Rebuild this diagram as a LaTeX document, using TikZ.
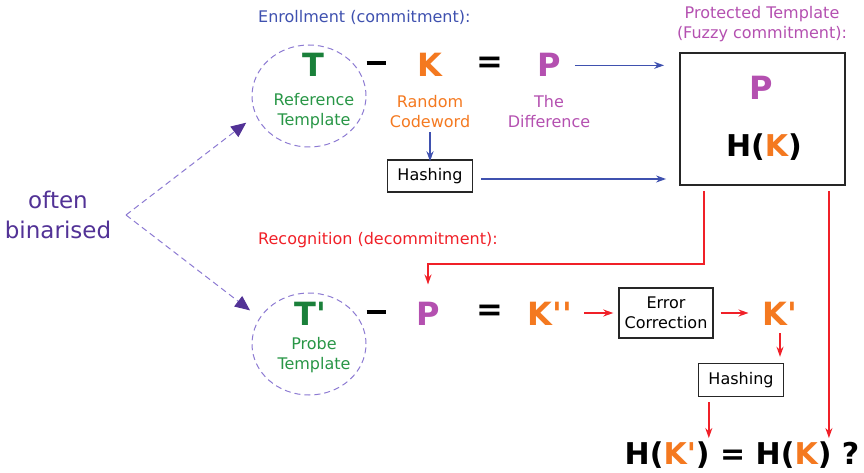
\documentclass[tikz,border=0pt]{standalone}
\usepackage{fontspec}
\setmainfont{DejaVu Sans}[Ligatures=TeXOff]
\usetikzlibrary{arrows.meta,positioning,calc,shapes.geometric}

\definecolor{enrblue}{RGB}{63,81,175}
\definecolor{tgreen}{RGB}{26,128,58}
\definecolor{lgreen}{RGB}{40,150,70}
\definecolor{korange}{RGB}{244,121,32}
\definecolor{pmagenta}{RGB}{180,80,176}
\definecolor{recred}{RGB}{240,32,40}
\definecolor{binpurple}{RGB}{82,50,150}
\definecolor{dashpurple}{RGB}{140,122,210}

\newcommand{\pr}{'}
\newcommand{\minusbar}{\rule{19pt}{3.6pt}}

\begin{document}
\begin{tikzpicture}[
    x=1pt, y=-1pt,
    sym/.style={font=\fontsize{32}{32}\selectfont\bfseries, inner sep=0pt},
    hsym/.style={font=\fontsize{30}{30}\selectfont\bfseries, inner sep=0pt},
    lbl/.style={font=\fontsize{16}{20}\selectfont, align=center, inner sep=0pt},
    proc/.style={draw=black!85, line width=1.4pt, font=\fontsize{16}{20}\selectfont, align=center, inner sep=2pt},
    tmpl/.style={ellipse, draw=dashpurple, dash pattern=on 6pt off 4pt, line width=1pt, minimum width=114pt, minimum height=102pt},
    bluearr/.style={-{Stealth[length=10pt,width=7pt]}, enrblue, line width=1.6pt},
    redarr/.style={-{Stealth[length=10pt,width=7pt]}, recred, line width=1.6pt},
    binarr/.style={-{Triangle[length=15pt,width=13pt,color=binpurple]}, dashpurple, dash pattern=on 6pt off 4pt, line width=1pt}
]
    \useasboundingbox (0,0) rectangle (864,473);

    % enrollment
    \node[lbl, anchor=west, text=enrblue] (enrtitle) at (258,17) {Enrollment (commitment):};
    \node[tmpl] (ref) at (309,96) {};
    \node[sym, anchor=base, text=tgreen] (tref) at (313,77) {T};
    \node[lbl, text=lgreen] (reflbl) at (314,111) {Reference\\Template};
    \node[sym, text=black] (minus1) at (376,63) {\minusbar};
    \node[sym, anchor=base, text=korange] (kcode) at (430,77) {K};
    \node[lbl, text=korange] (kcodelbl) at (430,112) {Random\\Codeword};
    \node[sym, text=black] (eq1) at (490,65) {=};
    \node[sym, anchor=base, text=pmagenta] (pdiff) at (549,77) {P};
    \node[lbl, text=pmagenta] (pdifflbl) at (549,112) {The\\Difference};
    \node[proc, minimum width=85pt, minimum height=32pt] (hash1) at (430,176) {Hashing};

    % protected template
    \node[lbl, text=pmagenta] (prottitle) at (762,24) {Protected Template\\(Fuzzy commitment):};
    \node[draw=black!85, line width=1.8pt, minimum width=165pt, minimum height=132pt] (prot) at (762.5,119) {};
    \node[sym, anchor=base, text=pmagenta] (pstored) at (761,100) {P};
    \node[hsym, anchor=base] (hstored) at (764,157) {H(\textcolor{korange}{K})};

    \draw[bluearr] (kcodelbl.south) ++(0,4) -- ([yshift=-2pt]hash1.north);
    \draw[bluearr, shorten <=14pt, shorten >=15pt] (pdiff) -- (pdiff -| prot.west);
    \draw[bluearr, shorten <=8pt, shorten >=13pt] ([yshift=-3pt]hash1.east) -- ([yshift=-3pt]hash1.east -| prot.west);

    % binarisation
    \node[lbl, font=\fontsize{23}{30}\selectfont, text=binpurple] (binlbl) at (58,215) {often\\binarised};
    \coordinate (binsplit) at (126,215);
    \node[tmpl] (probe) at (309,344) {};
    \draw[binarr, shorten >=12pt] (binsplit) -- (ref.200);
    \draw[binarr, shorten >=12pt] (binsplit) -- (probe.152);

    % recognition
    \node[lbl, anchor=west, text=recred] (rectitle) at (258,240) {Recognition (decommitment):};
    \node[sym, anchor=base, text=tgreen] (tprobe) at (310,325) {T\pr};
    \node[lbl, text=lgreen] (probelbl) at (314,355) {Probe\\Template};
    \node[sym, text=black] (minus2) at (376,312) {\minusbar};
    \node[sym, anchor=base, text=pmagenta] (pprobe) at (428,325) {P};
    \node[sym, text=black] (eq2) at (490,313) {=};
    \node[sym, anchor=base, text=korange] (knoisy) at (550,325) {K\pr\pr};
    \node[proc, minimum width=94pt, minimum height=50pt] (ecc) at (666,313) {Error\\Correction};
    \node[sym, anchor=base, text=korange] (kcorr) at (780,325) {K\pr};
    \node[proc, minimum width=85pt, minimum height=33pt] (hash2) at (741,380) {Hashing};
    \node[hsym, anchor=base] (final) at (742,464) {H(\textcolor{korange}{K\pr}) = H(\textcolor{korange}{K}) ?};

    \draw[redarr, shorten <=5pt, shorten >=17pt] ([xshift=25pt]prot.south west) -- ++(0,78) -| (pprobe.north);
    \draw[redarr, shorten <=5pt, shorten >=3pt] ([xshift=-17pt]prot.south east) -- ([xshift=-17pt]prot.south east |- final.north);
    \draw[redarr, shorten <=12pt, shorten >=5pt] (knoisy.east |- ecc) -- (ecc.west);
    \draw[redarr, shorten <=7pt, shorten >=14pt] (ecc.east) -- (ecc.east -| kcorr.west);
    \draw[redarr, shorten <=8pt, shorten >=6pt] (kcorr.base) -- (kcorr.base |- hash2.north);
    \draw[redarr, shorten <=5pt, shorten >=3pt] ([xshift=11pt]hash2.south west) -- ([xshift=11pt]hash2.south west |- final.north);
\end{tikzpicture}
\end{document}
